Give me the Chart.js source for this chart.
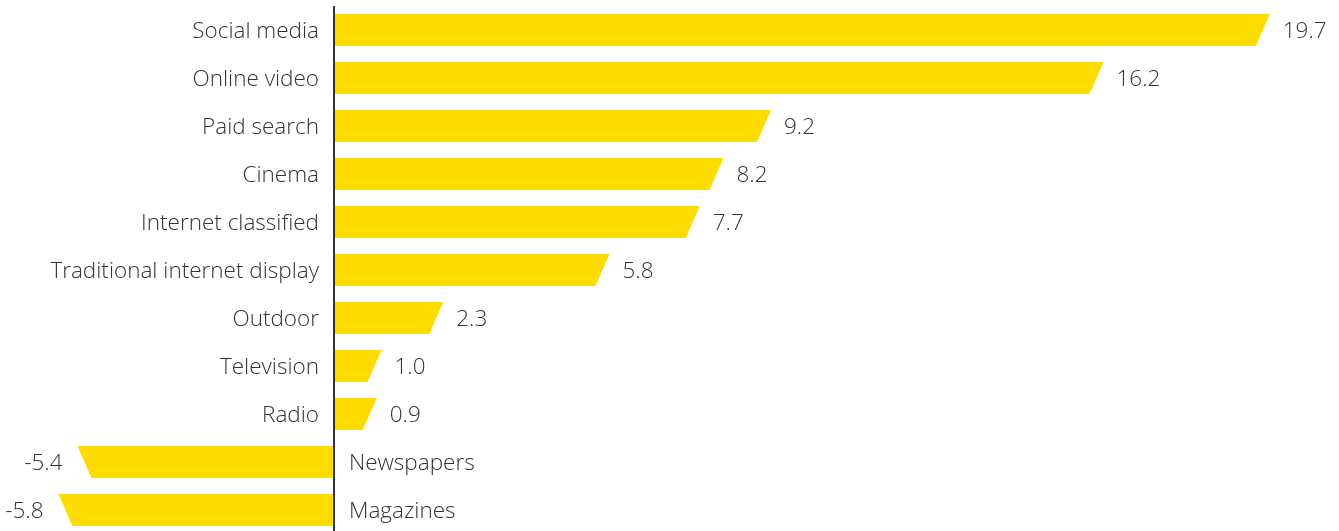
<!DOCTYPE html><html lang="en"><head>
    <meta charset="UTF-8">
    <title>Ad spend growth by medium</title>
    <script src="https://cdn.jsdelivr.net/npm/chart.js@4"></script>
    <style>
      body { margin: 0; overflow: hidden; background: #fff; }
      #wrap { width: 1339px; height: 534px; }
    </style>
  </head>
  <body>
    <div id="wrap"><canvas id="myChart"></canvas></div>

    <script>
      const media = ['Social media', 'Online video', 'Paid search', 'Cinema', 'Internet classified',
        'Traditional internet display', 'Outdoor', 'Television', 'Radio', 'Newspapers', 'Magazines'];
      const growth = [19.7, 16.2, 9.2, 8.2, 7.7, 5.8, 2.3, 1.0, 0.9, -5.4, -5.8];

      const YELLOW = '#FFDC00';
      const TEXT = '#333333';
      const FONT = '300 22.5px "Open Sans"';
      const SLANT = 14;

      // slanted-end bars + labels on both sides of the zero line
      const slantBars = {
        id: 'slantBars',
        beforeDatasetDraw(chart, args) {
          const ctx = chart.ctx;
          const meta = args.meta;
          ctx.save();
          ctx.fillStyle = YELLOW;
          meta.data.forEach((bar, i) => {
            const p = bar.getProps(['x', 'y', 'base', 'height'], true);
            const top = p.y - p.height / 2;
            const bottom = p.y + p.height / 2;
            const dir = growth[i] >= 0 ? 1 : -1;
            ctx.beginPath();
            ctx.moveTo(p.base, top);
            ctx.lineTo(p.x, top);
            ctx.lineTo(p.x - dir * SLANT, bottom);
            ctx.lineTo(p.base, bottom);
            ctx.closePath();
            ctx.fill();
          });
          ctx.restore();
          return false;
        },
        afterDatasetsDraw(chart) {
          const ctx = chart.ctx;
          const meta = chart.getDatasetMeta(0);
          const zero = chart.scales.x.getPixelForValue(0);
          ctx.save();
          ctx.font = FONT;
          ctx.fillStyle = TEXT;
          ctx.textBaseline = 'alphabetic';
          meta.data.forEach((bar, i) => {
            const v = growth[i];
            const base = bar.y + 8;
            if (v >= 0) {
              ctx.textAlign = 'right';
              ctx.fillText(media[i], zero - 15, base);
              ctx.textAlign = 'left';
              ctx.fillText(v.toFixed(1), bar.x + 13, base);
            } else {
              ctx.textAlign = 'left';
              ctx.fillText(media[i], zero + 15, base);
              ctx.textAlign = 'right';
              ctx.fillText(v.toFixed(1), bar.x - 15, base);
            }
          });
          ctx.restore();
        }
      };

      const ctx = document.getElementById('myChart').getContext('2d');
      const myChart = new Chart(ctx, {
        type: 'bar',
        data: {
          labels: media,
          datasets: [{
            data: growth,
            backgroundColor: YELLOW,
            barThickness: 32
          }]
        },
        options: {
          indexAxis: 'y',
          responsive: true,
          maintainAspectRatio: false,
          animation: false,
          layout: { padding: { left: 1.5, right: 7.5, top: 6, bottom: 0 } },
          plugins: { legend: { display: false }, tooltip: { enabled: false } },
          scales: {
            x: {
              min: -7,
              max: 21,
              ticks: { display: false, stepSize: 1 },
              border: { display: false },
              grid: {
                drawTicks: false,
                lineWidth: 2,
                color: c => c.tick && c.tick.value === 0 ? '#333333' : 'rgba(0,0,0,0)'
              }
            },
            y: { display: false }
          }
        },
        plugins: [slantBars]
      });
    </script>
  
</body></html>
